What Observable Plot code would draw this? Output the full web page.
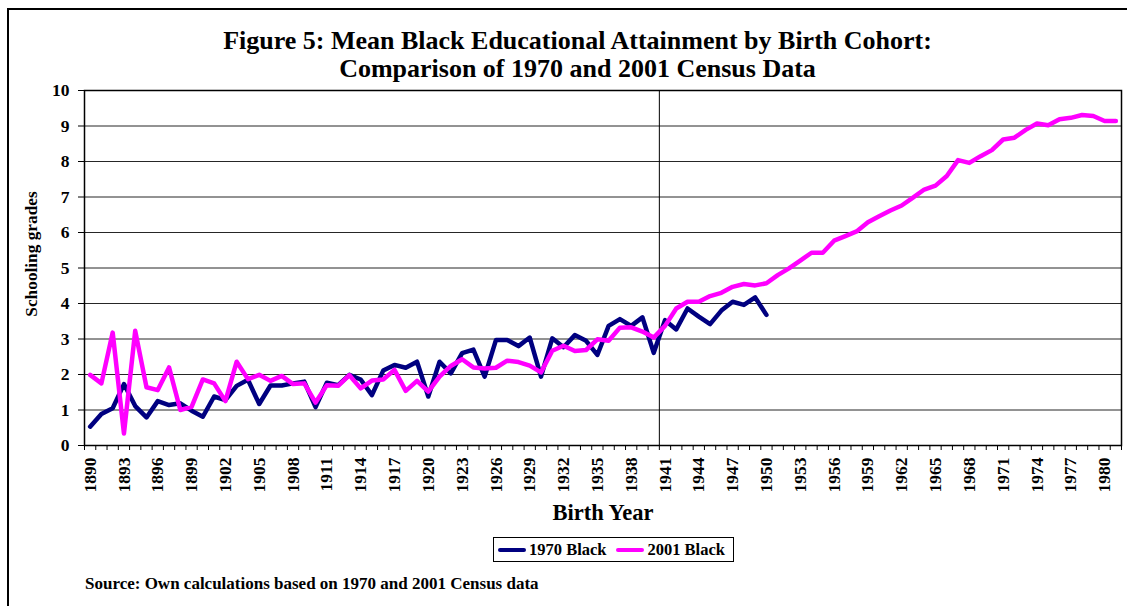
<!DOCTYPE html>
<html>
<head>
<meta charset="utf-8">
<script src="https://cdn.jsdelivr.net/npm/d3@7"></script>
<script src="https://cdn.jsdelivr.net/npm/@observablehq/plot@0.6"></script>
<style>
  html, body { margin: 0; padding: 0; background: #fff; }
  #wrap { position: relative; width: 1127px; height: 606px; overflow: hidden; font-family: "Liberation Serif", "Times New Roman", serif; font-weight: bold; color: #000; }
  #frame { position: absolute; left: 7px; top: 8px; width: 1200px; height: 700px; border-left: 2px solid #000; border-top: 2px solid #000; }
  #title { position: absolute; left: 0; width: 1155px; top: 27px; text-align: center; font-size: 26px; line-height: 28px; }
  #chart { position: absolute; left: 0; top: 0; }
  #ylab { position: absolute; left: 32px; top: 254px; transform: translate(-50%, -50%) rotate(-90deg); font-size: 17.3px; white-space: nowrap; }
  #xlab { position: absolute; left: 603px; top: 513px; transform: translate(-50%, -50%); font-size: 22.5px; white-space: nowrap; }
  #legend { position: absolute; left: 493px; top: 537px; width: 239px; height: 23px; border: 1px solid #000; display: flex; align-items: center; font-size: 16.5px; white-space: nowrap; }
  .sw { display: inline-block; width: 28px; height: 4px; border-radius: 2px; margin: 0 3px 0 4px; }
  #source { position: absolute; left: 85px; top: 574px; font-size: 17px; white-space: nowrap; }
  #chart svg text { font-size: 17.5px; }
</style>
</head>
<body>
<div id="wrap">
  <div id="frame"></div>
  <div id="chart"></div>
  <div id="title">Figure 5: Mean Black Educational Attainment by Birth Cohort:<br>Comparison of 1970 and 2001 Census Data</div>
  <div id="ylab">Schooling grades</div>
  <div id="xlab">Birth Year</div>
  <div id="legend"></div>
  <div id="source">Source: Own calculations based on 1970 and 2001 Census data</div>
</div>
<script>
// ---- data ----
const seriesNames = ["1970 Black", "2001 Black"];
const seriesColors = ["#000080", "#ff00ff"];
const firstYear = 1890;
const black1970 = [
  0.53, 0.89, 1.05, 1.73, 1.11, 0.79, 1.25, 1.14, 1.19, 0.98,
  0.81, 1.38, 1.28, 1.68, 1.85, 1.17, 1.69, 1.69, 1.75, 1.80,
  1.08, 1.77, 1.70, 1.99, 1.86, 1.42, 2.11, 2.27, 2.19, 2.36,
  1.38, 2.36, 2.03, 2.60, 2.70, 1.94, 2.97, 2.97, 2.80, 3.04,
  1.94, 3.02, 2.77, 3.11, 2.95, 2.55, 3.37, 3.56, 3.37, 3.61,
  2.61, 3.53, 3.27, 3.86, 3.63, 3.42, 3.80, 4.05, 3.96, 4.17,
  3.68
];
const black2001 = [
  1.99, 1.75, 3.18, 0.34, 3.23, 1.64, 1.56, 2.20, 1.00, 1.09,
  1.86, 1.75, 1.25, 2.36, 1.87, 1.99, 1.82, 1.96, 1.73, 1.75,
  1.21, 1.70, 1.68, 1.98, 1.61, 1.83, 1.86, 2.13, 1.54, 1.82,
  1.52, 1.94, 2.24, 2.43, 2.20, 2.17, 2.19, 2.39, 2.35, 2.25,
  2.06, 2.67, 2.81, 2.66, 2.69, 2.99, 2.95, 3.32, 3.33, 3.21,
  3.04, 3.37, 3.86, 4.05, 4.05, 4.21, 4.30, 4.47, 4.55, 4.51,
  4.57, 4.80, 4.99, 5.21, 5.43, 5.43, 5.77, 5.90, 6.03, 6.29,
  6.46, 6.62, 6.76, 6.98, 7.21, 7.32, 7.59, 8.04, 7.96, 8.15,
  8.32, 8.62, 8.67, 8.89, 9.07, 9.02, 9.19, 9.23, 9.31, 9.28,
  9.14, 9.14
];
const xTickLabels = [1890,1893,1896,1899,1902,1905,1908,1911,1914,1917,1920,1923,1926,1929,1932,1935,1938,1941,1944,1947,1950,1953,1956,1959,1962,1965,1968,1971,1974,1977,1980];
const yTickLabels = [0,1,2,3,4,5,6,7,8,9,10];
const valueAxisCrossYear = 1941;

// ---- build table ----
const rows = [];
[black1970, black2001].forEach((arr, s) => {
  arr.forEach((v, i) => rows.push({year: firstYear + i, value: v, series: seriesNames[s]}));
});
const lastYear = firstYear + black2001.length - 1;
const boundaries = d3.range(firstYear - 0.5, lastYear + 1, 1);

const chart = Plot.plot({
  width: 1127,
  height: 530,
  marginTop: 90,
  marginBottom: 85,
  marginLeft: 84,
  marginRight: 6,
  style: { fontFamily: "'Liberation Serif', 'Times New Roman', serif", fontWeight: "bold", background: "transparent", color: "#000", overflow: "visible" },
  x: { domain: [firstYear - 0.5, lastYear + 0.5] },
  y: { domain: [0, 10] },
  color: { domain: seriesNames, range: seriesColors },
  marks: [
    Plot.gridY(yTickLabels.slice(1, -1), { stroke: "#000", strokeOpacity: 0.85, strokeWidth: 1 }),
    Plot.ruleX([valueAxisCrossYear - 0.5], { stroke: "#000", strokeWidth: 1 }),
    Plot.axisY(yTickLabels, { tickSize: 6, tickPadding: 9, label: null, tickFormat: d => String(d) }),
    Plot.axisX(boundaries, { tickSize: 5, tickFormat: () => "", label: null }),
    Plot.axisX(xTickLabels, { tickSize: 0, tickRotate: -90, tickPadding: 12, label: null, tickFormat: d => String(d) }),
    Plot.line(rows, { x: "year", y: "value", z: "series", stroke: "series", strokeWidth: 4.5, strokeLinejoin: "round", strokeLinecap: "round" }),
    Plot.frame({ stroke: "#000", strokeWidth: 1.5 })
  ]
});
document.getElementById("chart").appendChild(chart);

// legend
const lg = document.getElementById("legend");
seriesNames.forEach((n, i) => {
  const sw = document.createElement("span");
  sw.className = "sw";
  sw.style.background = seriesColors[i];
  const t = document.createElement("span");
  t.textContent = n;
  t.style.marginRight = "6px";
  lg.appendChild(sw);
  lg.appendChild(t);
});
</script>
</body>
</html>
